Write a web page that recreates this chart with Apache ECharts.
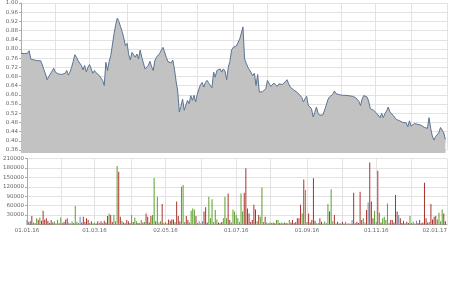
<!DOCTYPE html>
<html lang="de">
<head>
<meta charset="UTF-8">
<script src="https://cdn.jsdelivr.net/npm/echarts@6/dist/echarts.min.js"></script>
<style>
  html, body { margin: 0; padding: 0; background: #fff; }
  #chart { width: 450px; height: 300px; }
</style>
</head>
<body>
<div id="chart"></div>
<script>
// Kursdaten (Schlusskurs je Handelstag, 01.01.16 - 02.01.17)
const prices = [
  .781,.781,.780,.778,.781,.792,.756,.752,.752,.749,
  .749,.746,.749,.732,.710,.691,.666,.680,.691,.703,
  .716,.699,.693,.691,.689,.689,.689,.694,.706,.686,
  .699,.720,.746,.775,.764,.749,.738,.728,.709,.728,
  .700,.720,.732,.713,.694,.706,.696,.690,.684,.677,
  .663,.641,.742,.706,.746,.771,.775,.865,.905,.934,
  .919,.896,.875,.847,.814,.824,.775,.752,.785,.778,
  .764,.778,.756,.795,.764,.738,.713,.706,.728,.746,
  .723,.706,.749,.764,.771,.781,.795,.807,.800,.764,
  .745,.738,.739,.752,.713,.660,.617,.526,.550,.582,
  .533,.540,.576,.562,.597,.576,.598,.569,.602,.625,
  .645,.654,.634,.654,.663,.651,.654,.631,.699,.677,
  .706,.699,.713,.699,.713,.703,.666,.720,.746,.795,
  .807,.810,.813,.821,.843,.846,.896,.756,.738,.720,
  .709,.717,.684,.694,.641,.689,.612,.617,.614,.622,
  .627,.663,.670,.637,.631,.651,.653,.637,.648,.641,
  .645,.641,.657,.666,.648,.634,.631,.622,.617,.612,
  .608,.598,.589,.569,.583,.594,.555,.547,.539,.504,
  .524,.547,.521,.511,.511,.513,.519,.555,.579,.591,
  .598,.602,.617,.605,.598,.601,.599,.598,.598,.598,
  .598,.596,.595,.594,.591,.588,.582,.572,.553,.582,
  .597,.595,.591,.573,.540,.533,.533,.539,.519,.511,
  .501,.519,.501,.519,.530,.547,.526,.519,.511,.519,
  .493,.490,.487,.481,.480,.487,.478,.461,.487,.464,
  .472,.475,.475,.472,.470,.468,.464,.459,.458,.454,
  .501,.454,.421,.403,.418,.423,.435,.458,.454,.435,
  .406,'-'
];

// Umsatz (Stück)
const volumes = [
  14000,8000,10000,27000,6000,5000,20000,15000,22000,12000,
  44000,15000,20000,12000,5000,14000,6000,10000,4000,15000,
  5000,22000,4000,8000,15000,20000,6000,4000,10000,5000,
  59000,9000,5000,25000,6000,25000,8000,20000,15000,5000,
  10000,4000,6000,3000,10000,5000,10000,4000,12000,6000,
  27000,35000,30000,8000,30000,10000,186000,168000,25000,12000,
  6000,4000,14000,10000,5000,30000,8000,22000,10000,5000,
  4000,14000,6000,8000,35000,25000,6000,27000,30000,148000,
  10000,88000,6000,10000,65000,5000,8000,4000,16000,12000,
  16000,16000,8000,73000,27000,10000,120000,126000,8000,27000,
  14000,6000,44000,51000,48000,27000,5000,10000,4000,10000,
  41000,55000,6000,88000,20000,80000,8000,46000,16000,6000,
  5000,8000,20000,88000,20000,99000,14000,6000,48000,41000,
  30000,20000,8000,99000,41000,101000,179000,51000,35000,8000,
  14000,63000,48000,10000,30000,25000,118000,8000,25000,6000,
  4000,7000,5000,6000,4000,14000,14000,5000,6000,4000,
  7000,5000,4000,14000,6000,14000,5000,8000,20000,20000,
  63000,35000,143000,110000,8000,35000,6000,14000,147000,12000,
  4000,5000,20000,9000,4000,10000,5000,65000,41000,112000,
  10000,30000,4000,9000,3000,4000,9000,3000,9000,3000,
  4000,2000,14000,101000,4000,9000,5000,104000,14000,20000,
  6000,46000,70000,197000,73000,20000,44000,8000,171000,37000,
  6000,20000,25000,14000,67000,5000,14000,14000,6000,94000,
  41000,30000,20000,5000,12000,4000,9000,5000,27000,4000,
  9000,3000,12000,5000,14000,4000,6000,133000,20000,6000,
  8000,65000,16000,25000,27000,16000,37000,10000,48000,35000,
  10000,'-'
];

const volDir = {
  3:'r',6:'g',8:'g',10:'r',12:'r',15:'r',19:'g',21:'g',25:'r',30:'g',33:'b',35:'r',37:'r',38:'r',
  50:'r',51:'g',52:'r',54:'g',56:'g',57:'r',58:'r',62:'r',65:'g',67:'g',74:'r',75:'r',77:'r',78:'g',
  79:'g',81:'g',84:'r',93:'r',96:'g',97:'g',99:'r',102:'g',103:'g',104:'g',107:'b',109:'b',110:'r',
  111:'r',113:'g',115:'g',117:'g',123:'g',125:'r',128:'g',129:'g',133:'g',135:'r',136:'r',137:'r',
  141:'r',142:'r',146:'g',155:'g',156:'g',169:'r',170:'r',171:'g',172:'r',173:'g',175:'r',178:'r',
  182:'r',187:'g',188:'r',189:'g',191:'r',202:'b',203:'r',207:'r',211:'r',212:'b',213:'r',214:'r',
  216:'g',218:'r',219:'g',222:'g',224:'g',229:'r',230:'r',231:'b',238:'g',247:'r',251:'r',253:'r',
  254:'r',256:'g',258:'g',259:'r'
};

const COLORS = { g: '#5a9e2c', r: '#a8322c', b: '#7181a8' };

// Handelstage (Mo-Fr)
function pad(n) { return (n < 10 ? '0' : '') + n; }
const days = [];
for (let d = new Date(Date.UTC(2016, 0, 1)); d <= new Date(Date.UTC(2017, 0, 2)); d.setUTCDate(d.getUTCDate() + 1)) {
  const w = d.getUTCDay();
  if (w === 0 || w === 6) continue;
  days.push(pad(d.getUTCDate()) + '.' + pad(d.getUTCMonth() + 1) + '.' + String(d.getUTCFullYear()).slice(2));
}
function monthStart(i) { return i === 0 || days[i].slice(3, 5) !== days[i - 1].slice(3, 5); }
function labelDay(i) { return monthStart(i) && (+days[i].slice(3, 5)) % 2 === 1; }

const barData = volumes.map(function (v, i) {
  let dir = volDir[i];
  if (!dir) {
    const p = prices[i], q = i > 0 ? prices[i - 1] : p;
    dir = p > q ? 'g' : (p < q ? 'r' : 'b');
  }
  return { value: v, itemStyle: { color: COLORS[dir] } };
});

const chart = echarts.init(document.getElementById('chart'));
const labelStyle = { fontSize: 5.5, color: '#666', fontFamily: 'DejaVu Sans' };
const gridLine = { lineStyle: { color: '#e3e3e3', width: 1 } };

chart.setOption({
  animation: false,
  backgroundColor: '#fff',
  grid: [
    { left: 21, right: 3, top: 2, height: 148 },
    { left: 21, right: 3, top: 158.5, height: 66 }
  ],
  xAxis: [
    {
      type: 'category', gridIndex: 0, data: days, boundaryGap: false,
      axisLine: { show: false }, axisTick: { show: false }, axisLabel: { show: false },
      splitLine: Object.assign({ show: true, interval: function (i) { return monthStart(i); } }, gridLine)
    },
    {
      type: 'category', gridIndex: 1, data: days, boundaryGap: false,
      axisLine: { lineStyle: { color: '#aaa' } },
      axisTick: { show: false },
      axisLabel: Object.assign({ interval: function (i) { return labelDay(i); }, margin: 3, alignMaxLabel: 'right', hideOverlap: false }, labelStyle),
      splitLine: Object.assign({ show: true, interval: function (i) { return monthStart(i); } }, gridLine)
    }
  ],
  yAxis: [
    {
      type: 'value', gridIndex: 0, min: 0.36, max: 1.0, interval: 0.04,
      axisLine: { show: true, lineStyle: { color: '#aaa' } },
      axisTick: { show: true, length: 2, lineStyle: { color: '#aaa' } },
      axisLabel: Object.assign({ margin: 3, formatter: function (v) { return v.toFixed(2); } }, labelStyle),
      splitLine: gridLine
    },
    {
      type: 'value', gridIndex: 1, min: 0, max: 210000, interval: 30000,
      axisLine: { show: true, lineStyle: { color: '#aaa' } },
      axisTick: { show: true, length: 2, lineStyle: { color: '#aaa' } },
      axisLabel: Object.assign({ margin: 3, showMinLabel: false, formatter: function (v) { return String(v); } }, labelStyle),
      splitLine: gridLine
    }
  ],
  series: [
    {
      type: 'line', xAxisIndex: 0, yAxisIndex: 0, data: prices,
      showSymbol: false, clip: false,
      lineStyle: { color: '#5b7493', width: 1 },
      areaStyle: { color: '#c2c2c2', opacity: 1, origin: 0.347 }
    },
    {
      type: 'bar', xAxisIndex: 1, yAxisIndex: 1, data: barData,
      barWidth: 1
    }
  ]
});
</script>
</body>
</html>
